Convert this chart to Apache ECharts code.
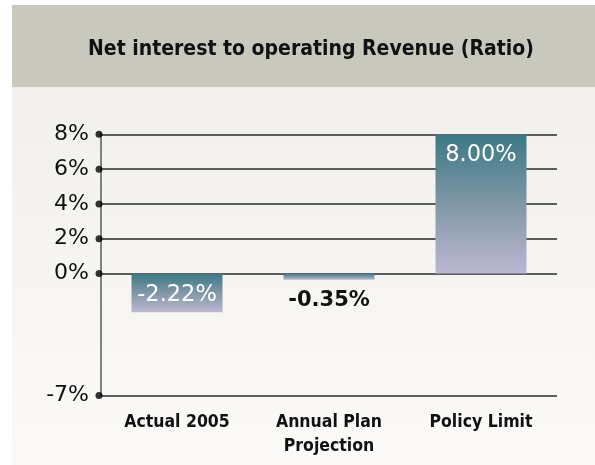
<!DOCTYPE html>
<html><head><meta charset="utf-8">
<script src="https://cdn.jsdelivr.net/npm/echarts@6/dist/echarts.min.js"></script>
<style>html,body{margin:0;padding:0;background:#fff}#c{width:595px;height:465px}</style>
</head><body><div id="c"></div>
<script>
const titleText = 'Net interest to operating Revenue (Ratio)';
const categories = ['Actual 2005', 'Annual Plan\nProjection', 'Policy Limit'];
const values = [-2.22, -0.35, 8.00];
const valueLabels = ['-2.22%', '-0.35%', '8.00%'];
const yTicks = [-7, 0, 2, 4, 6, 8];

const NARROW = "'DejaVu Sans Condensed', 'DejaVu Sans', sans-serif";
const WIDE = "'DejaVu Sans', sans-serif";
const chart = echarts.init(document.getElementById('c'), null, {renderer: 'canvas'});
const grad = new echarts.graphic.LinearGradient(0, 0, 0, 1, [
  {offset: 0, color: '#3b7884'},
  {offset: 0.5, color: '#8097a6'},
  {offset: 1, color: '#bcb8d3'}
]);
const labelCfg = [
  {position: 'insideTop', color: '#ffffff', fontWeight: 'normal', distance: 10},
  {position: 'bottom', color: '#111111', fontWeight: 'bold', fontSize: 21, distance: 10},
  {position: 'insideTop', color: '#ffffff', fontWeight: 'normal', distance: 9}
];
chart.setOption({
  animation: false,
  backgroundColor: '#ffffff',
  graphic: [
    {type: 'rect', left: 12, top: 5, shape: {width: 583, height: 82}, style: {fill: '#c8c9bc'}, z: -10},
    {type: 'rect', left: 12, top: 87, shape: {width: 583, height: 378},
     style: {fill: new echarts.graphic.LinearGradient(0, 0, 0, 1, [{offset: 0, color: '#f1f0ec'}, {offset: 1, color: '#fbfaf8'}])}, z: -10}
  ],
  title: {
    text: titleText, left: 83, top: 34,
    textStyle: {fontFamily: NARROW, fontWeight: 'bold', fontSize: 21, color: '#111'}
  },
  grid: {left: 101, right: 38, top: 134.3, bottom: 69.5, containLabel: false},
  xAxis: [
    {type: 'category', data: categories,
     axisLine: {show: false}, axisTick: {show: false},
     axisLabel: {fontFamily: NARROW, fontWeight: 'bold', fontSize: 17.5, color: '#111', margin: 15, lineHeight: 24}},
    {type: 'value', min: 0, max: 1, show: false}
  ],
  yAxis: {
    type: 'value', min: -7, max: 8, interval: 1,
    axisLine: {show: true, lineStyle: {color: '#808080', width: 2}},
    axisTick: {show: false},
    splitLine: {show: false},
    axisLabel: {customValues: yTicks, formatter: '{value}%', fontFamily: WIDE, fontSize: 22, color: '#111', margin: 12}
  },
  series: [
    {
      type: 'bar', data: values.map((v, i) => ({
        value: v,
        label: Object.assign({show: true, formatter: valueLabels[i], fontFamily: WIDE, fontSize: 22.5}, labelCfg[i])
      })),
      barWidth: 91, z: 2,
      itemStyle: {color: grad},
      markLine: {
        silent: true, symbol: 'none', z: 1, label: {show: false},
        lineStyle: {color: '#2a2a2a', width: 1.5, type: 'solid'},
        data: yTicks.map(t => ({yAxis: t}))
      }
    },
    {
      type: 'scatter', xAxisIndex: 1, z: 5,
      data: yTicks.map(t => [0, t]),
      symbol: 'circle', symbolSize: 7, symbolOffset: [-2, 0],
      itemStyle: {color: '#000'}, clip: false, silent: true
    }
  ]
});
</script></body></html>
